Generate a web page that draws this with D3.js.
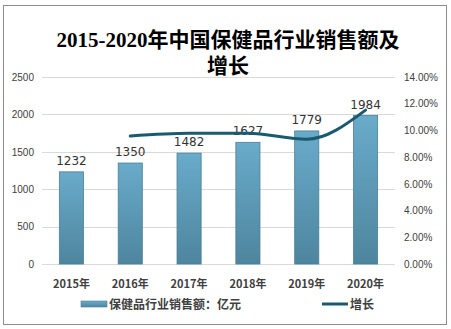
<!DOCTYPE html>
<html><head><meta charset="utf-8">
<script src="https://cdn.jsdelivr.net/npm/d3@7"></script>
<style>body{margin:0;background:#fff}svg{display:block}</style>
</head><body>
<script>
const categories = ["2015年","2016年","2017年","2018年","2019年","2020年"];
const sales = [1232,1350,1482,1627,1779,1984];
const growth = [null,9.58,9.78,9.78,9.34,11.52];
const leftTicks = [0,500,1000,1500,2000,2500];
const rightTicks = [0,2,4,6,8,10,12,14];
const titleLines = ["2015-2020年中国保健品行业销售额及","增长"];
const legendLabels = ["保健品行业销售额：亿元","增长"];

const W=451,H=329;
const svg=d3.select("body").append("svg").attr("width",W).attr("height",H);
svg.append("rect").attr("x",3.5).attr("y",5.5).attr("width",443).attr("height",319)
  .attr("fill","#fff").attr("stroke","#8c8c8c").attr("stroke-width",1);

const defs=svg.append("defs");
const g=defs.append("linearGradient").attr("id","bg").attr("x1",0).attr("y1",0).attr("x2",0).attr("y2",1);
g.append("stop").attr("offset","0%").attr("stop-color","#69abca");
g.append("stop").attr("offset","100%").attr("stop-color","#4e859e");
const gl=defs.append("linearGradient").attr("id","lg").attr("x1",0).attr("y1",0).attr("x2",0).attr("y2",1);
gl.append("stop").attr("offset","0%").attr("stop-color","#69abca");
gl.append("stop").attr("offset","100%").attr("stop-color","#4e859e");

const pLeft=42,pRight=395,pTop=77,pBottom=264;
const x=d3.scaleBand().domain(categories).range([pLeft,pRight]).paddingInner(0.59).paddingOuter(0.295);
const y=d3.scaleLinear().domain([0,2500]).range([pBottom,pTop]);
const y2=d3.scaleLinear().domain([0,14]).range([pBottom,pTop]);

// grid
svg.append("g").selectAll("line").data(leftTicks).join("line")
  .attr("x1",pLeft).attr("x2",pRight).attr("y1",d=>Math.round(y(d))+0.5).attr("y2",d=>Math.round(y(d))+0.5)
  .attr("stroke","#d9d9d9").attr("stroke-width",1);

// left axis
const la=svg.append("g").attr("transform",`translate(${pLeft-8},0)`)
  .call(d3.axisLeft(y).tickValues(leftTicks).tickSize(0).tickPadding(0).tickFormat(d=>String(d)));
la.select(".domain").remove();
la.selectAll("text").attr("font-family","Liberation Sans, Arial, sans-serif").attr("font-size",10).attr("fill","#404040");

// right axis
const ra=svg.append("g").attr("transform",`translate(${pRight+9},0)`)
  .call(d3.axisRight(y2).tickValues(rightTicks).tickSize(0).tickPadding(0).tickFormat(d=>d.toFixed(2)+"%"));
ra.select(".domain").remove();
ra.selectAll("text").attr("font-family","Liberation Sans, Arial, sans-serif").attr("font-size",10).attr("fill","#404040");

// x axis
const xa=svg.append("g").attr("transform",`translate(0,${pBottom+8})`)
  .call(d3.axisBottom(x).tickSize(0).tickPadding(8));
xa.select(".domain").remove();
xa.selectAll("text").attr("font-family","Noto Sans CJK SC, sans-serif").attr("font-size",11).attr("font-weight","bold").attr("fill","#404040");

// bars
svg.append("g").selectAll("rect").data(sales).join("rect")
  .attr("x",(d,i)=>x(categories[i])).attr("width",x.bandwidth())
  .attr("y",d=>y(d)).attr("height",d=>pBottom-y(d))
  .attr("fill","url(#bg)").attr("stroke","#4a7f97").attr("stroke-width",0.8);

// bar labels
svg.append("g").selectAll("text").data(sales).join("text")
  .attr("x",(d,i)=>x(categories[i])+x.bandwidth()/2).attr("y",d=>y(d)-7)
  .attr("text-anchor","middle").attr("font-family","DejaVu Sans, sans-serif").attr("font-size",12)
  .attr("fill","#333").text(d=>d);

// line
const pts=growth.map((v,i)=>({v,c:categories[i]})).filter(d=>d.v!=null);
svg.append("path").datum(pts)
  .attr("d",d3.line().x(d=>x(d.c)+x.bandwidth()/2).y(d=>y2(d.v)).curve(d3.curveMonotoneX))
  .attr("fill","none").attr("stroke","#1a5a6e").attr("stroke-width",3).attr("stroke-linecap","round");

// title
const t=svg.append("text").attr("text-anchor","middle").attr("font-family","Liberation Serif, Noto Sans CJK SC, serif")
  .attr("font-size",21).attr("font-weight","bold").attr("fill","#000");
t.selectAll("tspan").data(titleLines).join("tspan").attr("x",228).attr("y",(d,i)=>47+i*26).text(d=>d);

// legend
const ly=304;
svg.append("rect").attr("x",81).attr("y",ly-3).attr("width",26).attr("height",6).attr("fill","url(#lg)").attr("stroke","#4a7f97").attr("stroke-width",0.6);
svg.append("text").attr("x",109).attr("y",ly+4.5).attr("font-family","Noto Sans CJK SC, sans-serif").attr("font-size",12).attr("font-weight","bold").attr("fill","#404040").text(legendLabels[0]);
svg.append("line").attr("x1",322).attr("x2",348).attr("y1",ly).attr("y2",ly).attr("stroke","#1a5a6e").attr("stroke-width",3);
svg.append("text").attr("x",350).attr("y",ly+4.5).attr("font-family","Noto Sans CJK SC, sans-serif").attr("font-size",12).attr("font-weight","bold").attr("fill","#404040").text(legendLabels[1]);
</script>
</body></html>
